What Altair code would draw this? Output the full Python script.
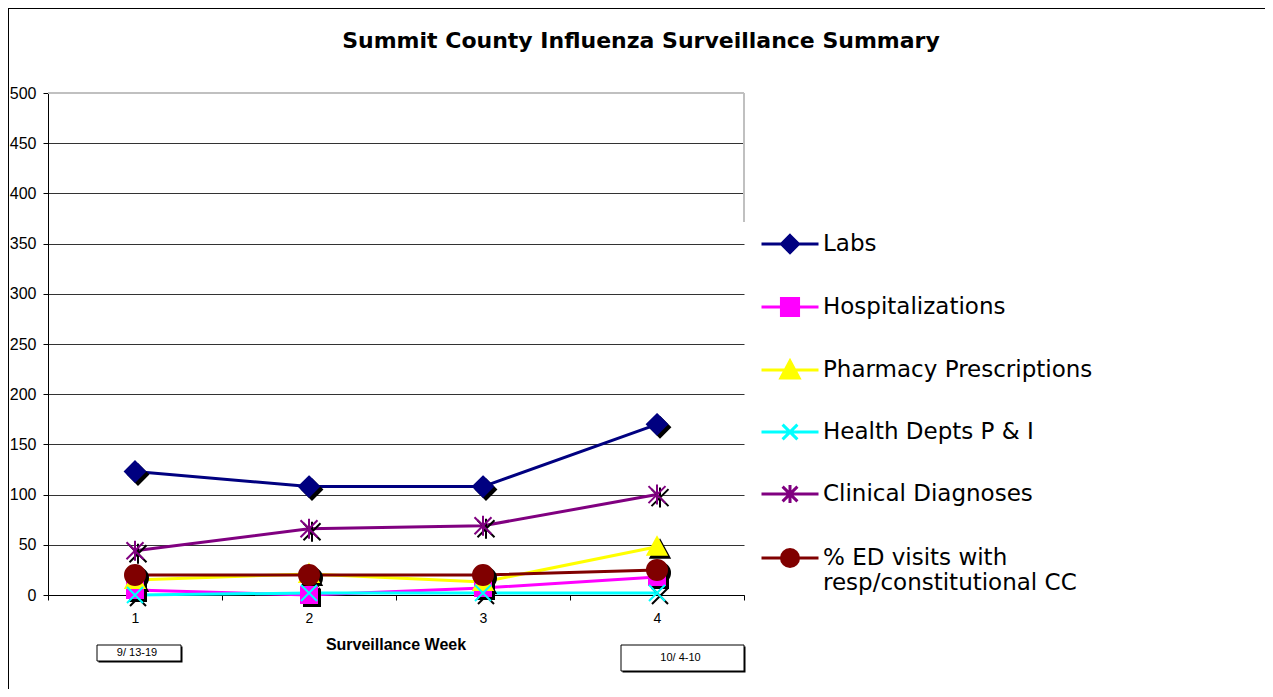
import altair as alt
import pandas as pd

# ---------------- data ----------------
weeks = ["1", "2", "3", "4"]
series_names = [
    "Labs",
    "Hospitalizations",
    "Pharmacy Prescriptions",
    "Health Depts P & I",
    "Clinical Diagnoses",
    "% ED visits with resp/constitutional CC",
]
labs = [123, 108, 108, 170]
hospitalizations = [5, 0, 7, 18]
pharmacy = [15, 21, 13, 48]
health_depts = [0, 2, 2, 2]
clinical = [44, 66, 69, 100]
ed_visits = [20, 20, 20, 25]
series_colors = ["#000080", "#FF00FF", "#FFFF00", "#00FFFF", "#800080", "#800000"]

title_text = "Summit County Influenza Surveillance Summary"
x_title = "Surveillance Week"
date_labels = ["9/ 13-19", "10/ 4-10"]
y_ticks = [0, 50, 100, 150, 200, 250, 300, 350, 400, 450, 500]

values_by_series = [labs, hospitalizations, pharmacy, health_depts, clinical, ed_visits]
rows = []
for name, vals in zip(series_names, values_by_series):
    for w, v in zip(weeks, vals):
        rows.append({"week": w, "value": v, "series": name})
df = pd.DataFrame(rows)

# marker shapes (plot) and legend shapes (line + marker)
marker_paths = [
    "M0,-1L1,0L0,1L-1,0Z",
    "M-0.8,-0.8H0.8V0.8H-0.8Z",
    "M0,-0.95L0.95,0.8H-0.95Z",
    "M-0.8,-0.8L0.8,0.8M-0.8,0.8L0.8,-0.8",
    "M-0.85,-0.85L0.85,0.85M-0.85,0.85L0.85,-0.85M0,-1V1",
    "M-1,0A1,1,0,1,1,1,0A1,1,0,1,1,-1,0Z",
]
legend_paths = [
    "M-1,0H1M0,-0.3L0.3,0L0,0.3L-0.3,0Z",
    "M-1,0H1M-0.3,-0.3H0.3V0.3H-0.3Z",
    "M-1,0H1M0,-0.32L0.32,0.28H-0.32Z",
    "M-1,0H1M-0.26,-0.26L0.26,0.26M-0.26,0.26L0.26,-0.26",
    "M-1,0H1M-0.26,-0.26L0.26,0.26M-0.26,0.26L0.26,-0.26M0,-0.32V0.32",
    "M-1,0H1M-0.3,0A0.3,0.3,0,1,1,0.3,0A0.3,0.3,0,1,1,-0.3,0Z",
]

W, H = 696, 502

x_enc = alt.X(
    "week:O",
    scale=alt.Scale(type="band", domain=weeks, paddingInner=0, paddingOuter=0),
    axis=alt.Axis(
        labelAngle=0,
        tickBand="extent",
        tickSize=5,
        tickColor="black",
        domainColor="black",
        labelFont="Liberation Sans",
        labelFontSize=14,
        labelColor="black",
        labelPadding=11,
        title=None,
        grid=False,
    ),
)
y_enc = alt.Y(
    "value:Q",
    scale=alt.Scale(domain=[0, 500], nice=False),
    axis=alt.Axis(
        values=y_ticks,
        grid=True,
        gridColor="#333333",
        gridWidth=1,
        tickSize=5,
        tickColor="black",
        domainColor="black",
        labelFont="Liberation Sans",
        labelFontSize=16,
        labelColor="black",
        labelPadding=7,
        title=None,
    ),
)

base = alt.Chart(df)

lines = base.mark_line(strokeWidth=3).encode(
    x=x_enc,
    y=y_enc,
    color=alt.Color("series:N", scale=alt.Scale(domain=series_names, range=series_colors), legend=None),
    order=alt.Order("week:O"),
)

shape_scale = alt.Scale(domain=series_names, range=marker_paths)

shadows = base.mark_point(
    filled=True, fill="black", stroke="black", strokeWidth=2, size=400, opacity=1, xOffset=3, yOffset=3
).encode(
    x="week:O",
    y="value:Q",
    shape=alt.Shape("series:N", scale=shape_scale, legend=None),
)

markers = base.mark_point(filled=True, size=400, strokeWidth=2, opacity=1).encode(
    x="week:O",
    y="value:Q",
    shape=alt.Shape("series:N", scale=shape_scale, legend=None),
    fill=alt.Fill("series:N", scale=alt.Scale(domain=series_names, range=series_colors), legend=None),
    stroke=alt.Stroke("series:N", scale=alt.Scale(domain=series_names, range=series_colors), legend=None),
)

leg = alt.Legend(
    orient="none",
    legendX=712,
    legendY=121,
    title=None,
    symbolSize=3249,
    symbolStrokeWidth=3,
    labelFont="DejaVu Sans",
    labelFontSize=23,
    labelColor="black",
    labelOffset=3,
    labelLimit=600,
    rowPadding=18,
    padding=0,
    labelExpr="datum.label == '% ED visits with resp/constitutional CC' ? ['% ED visits with', 'resp/constitutional CC'] : datum.label",
)

legend_layer = base.mark_point(filled=True, opacity=1).encode(
    x="week:O",
    y="value:Q",
    shape=alt.Shape("series:N", scale=alt.Scale(domain=series_names, range=legend_paths), legend=leg),
    fill=alt.Fill("series:N", scale=alt.Scale(domain=series_names, range=series_colors), legend=leg),
    stroke=alt.Stroke("series:N", scale=alt.Scale(domain=series_names, range=series_colors), legend=leg),
).transform_filter("false")

# plot-area border (gray, top and upper right) and chart frame
one = pd.DataFrame({"k": [0]})
top_border = alt.Chart(one).mark_rule(color="#c0c0c0", strokeWidth=2).encode(
    x=alt.value(0), x2=alt.value(W), y=alt.value(0)
)
right_border = alt.Chart(one).mark_rule(color="#c0c0c0", strokeWidth=2).encode(
    x=alt.value(W), y=alt.value(0), y2=alt.value(129)
)
frame_left = alt.Chart(one).mark_rule(color="black", strokeWidth=1).encode(
    x=alt.value(-39.5), y=alt.value(-85), y2=alt.value(600)
)
frame_top = alt.Chart(one).mark_rule(color="black", strokeWidth=1).encode(
    x=alt.value(-40), x2=alt.value(1220), y=alt.value(-84.5)
)

title_layer = alt.Chart(pd.DataFrame({"t": [title_text]})).mark_text(
    font="DejaVu Sans", fontSize=22, fontWeight="bold", align="center", baseline="alphabetic",
    color="black",
).encode(text="t:N", x=alt.value(593), y=alt.value(-45))

x_title_layer = alt.Chart(pd.DataFrame({"t": [x_title]})).mark_text(
    font="Liberation Sans", fontSize=16, fontWeight="bold", align="center", baseline="middle",
    color="black",
).encode(text="t:N", x=alt.value(348), y=alt.value(552))

def date_box(label, x0, x1, y0, y1):
    d = pd.DataFrame({"t": [label]})
    shadow = alt.Chart(d).mark_rect(fill="black").encode(
        x=alt.value(x0 + 1.5), x2=alt.value(x1 + 1.5), y=alt.value(y0 + 1.5), y2=alt.value(y1 + 1.5)
    )
    box = alt.Chart(d).mark_rect(fill="white", stroke="black", strokeWidth=1).encode(
        x=alt.value(x0), x2=alt.value(x1), y=alt.value(y0), y2=alt.value(y1)
    )
    txt = alt.Chart(d).mark_text(
        font="Liberation Sans", fontSize=11, align="center", baseline="middle", color="black"
    ).encode(text="t:N", x=alt.value((x0 + x1) / 2 - 2), y=alt.value((y0 + y1) / 2))
    return [shadow, box, txt]

box1 = date_box(date_labels[0], 49, 133, 552, 568)
box2 = date_box(date_labels[1], 573, 696, 552, 578)

chart = (
    alt.layer(
        lines, shadows, markers, legend_layer,
        top_border, right_border, frame_left, frame_top,
        title_layer, x_title_layer, *box1, *box2,
    )
    .resolve_scale(shape="independent", fill="independent", stroke="independent")
    .properties(
        width=W,
        height=H,
        padding={"left": 40, "top": 85, "right": 521, "bottom": 94},
        autosize=alt.AutoSizeParams(type="none"),
        background="white",
    )
    .configure_view(stroke=None)
)

chart.save("out.html", embed_options={"renderer": "svg", "actions": False})
